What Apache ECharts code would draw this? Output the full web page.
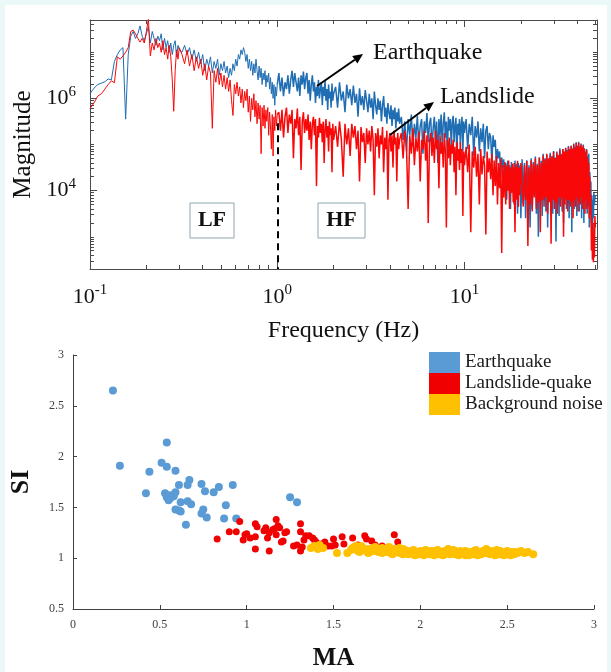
<!DOCTYPE html>
<html><head><meta charset="utf-8">
<script src="https://cdn.jsdelivr.net/npm/echarts@6/dist/echarts.min.js"></script>
<style>
html,body{margin:0;padding:0;background:#eaf8f7;}
#bg{position:absolute;left:5px;top:5px;width:602px;height:667px;background:#fff;}
#chart{position:absolute;left:0;top:0;width:611px;height:672px;}
</style></head><body><div id="bg"></div><div id="chart"></div>
<script>
// ---------- Spectrum (top panel) ----------
const freqHz = [
0.100,0.105,0.110,0.115,0.120,0.125,0.130,0.135,0.140,0.145,
0.150,0.155,0.160,0.165,0.170,0.175,0.180,0.185,0.190,0.195,
0.200,0.205,0.210,0.215,0.220,0.225,0.230,0.235,0.240,0.245,
0.250,0.255,0.260,0.265,0.270,0.275,0.280,0.285,0.290,0.295,
0.300,
0.31,0.32,0.33,0.34,0.35,0.36,0.37,0.38,0.39,0.40,
0.41,0.42,0.43,0.44,0.45,0.46,0.47,0.48,0.49,0.50,
0.51,0.52,0.53,0.54,0.55,0.56,0.57,0.58,0.59,0.60,
0.61,0.62,0.63,0.64,0.65,0.66,0.67,0.68,0.69,0.70,
0.71,0.72,0.73,0.74,0.75,0.76,0.77,0.78,0.79,0.80,
0.81,0.82,0.83,0.84,0.85,0.86,0.87,0.88,0.89,0.90,
0.91,0.92,0.93,0.94,0.95,0.96,0.97,0.98,0.99,1.00,
1.02,1.04,1.06,1.08,1.10,1.12,1.14,1.16,1.18,1.20,
1.22,1.24,1.26,1.28,1.30,1.32,1.34,1.36,1.38,1.40,
1.42,1.44,1.46,1.48,1.50,1.52,1.54,1.56,1.58,1.60,
1.62,1.64,1.66,1.68,1.70,1.72,1.74,1.76,1.78,1.80,
1.82,1.84,1.86,1.88,1.90,1.92,1.94,1.96,1.98,2.00,
2.05,2.10,2.15,2.20,2.25,2.30,2.35,2.40,2.45,2.50,
2.55,2.60,2.65,2.70,2.75,2.80,2.85,2.90,2.95,3.00,
3.05,3.10,3.15,3.20,3.25,3.30,3.35,3.40,3.45,3.50,
3.55,3.60,3.65,3.70,3.75,3.80,3.85,3.90,3.95,4.00,
4.05,4.10,4.15,4.20,4.25,4.30,4.35,4.40,4.45,4.50,
4.6,4.7,4.8,4.9,5.0,5.1,5.2,5.3,5.4,5.5,
5.6,5.7,5.8,5.9,6.0,6.1,6.2,6.3,6.4,6.5,
6.6,6.7,6.8,6.9,7.0,7.1,7.2,7.3,7.4,7.5,
7.6,7.7,7.8,7.9,8.0,8.1,8.2,8.3,8.4,8.5,
8.6,8.7,8.8,8.9,9.0,9.1,9.2,9.3,9.4,9.5,
9.6,9.7,9.8,9.9,10.0,
10.2,10.4,10.6,10.8,11.0,11.2,11.4,11.6,11.8,12.0,
12.2,12.4,12.6,12.8,13.0,13.2,13.4,13.6,13.8,14.0,
14.2,14.4,14.6,14.8,15.0,15.2,15.4,15.6,15.8,16.0,
16.2,16.4,16.6,16.8,17.0,17.2,17.4,17.6,17.8,18.0,
18.2,18.4,18.6,18.8,19.0,19.2,19.4,19.6,19.8,20.0,
20.3,20.6,20.9,21.2,21.5,21.8,22.1,22.4,22.7,23.0,
23.3,23.6,23.9,24.2,24.5,24.8,25.1,25.4,25.7,26.0,
26.3,26.6,26.9,27.2,27.5,27.8,28.1,28.4,28.7,29.0,
29.3,29.6,29.9,30.2,30.5,30.8,31.1,31.4,31.7,32.0,
32.3,32.6,32.9,33.2,33.5,33.8,34.1,34.4,34.7,35.0,
35.3,35.6,35.9,36.2,36.5,36.8,37.1,37.4,37.7,38.0,
38.3,38.6,38.9,39.2,39.5,39.8,40.1,40.4,40.7,41.0,
41.3,41.6,41.9,42.2,42.5,42.8,43.1,43.4,43.7,44.0,
44.3,44.6,44.9,45.2,45.5,45.8,46.1,46.4,46.7,47.0,
47.3,47.6,47.9,48.2,48.5,48.8,49.1,49.4,49.7,50.0
];
// log10 of magnitude, earthquake spectrum
const earthquakeLog10Mag = [
6.10,6.22,6.30,6.33,6.36,6.42,6.40,6.80,6.95,7.05,
7.10,5.55,6.95,7.35,7.45,7.30,7.40,7.57,7.35,7.25,
7.40,7.55,7.20,7.45,7.30,7.15,7.35,7.25,7.40,7.05,
7.30,7.10,7.25,7.00,7.20,6.95,7.15,7.25,6.90,7.15,
7.05,
7.00,7.15,6.95,7.10,6.85,7.05,6.80,7.00,6.75,6.95,
6.60,6.85,6.70,6.90,6.55,6.80,6.65,6.85,6.50,6.75,
6.60,6.80,6.55,6.70,6.45,6.65,6.50,6.75,6.60,6.85,
6.70,6.95,6.85,7.05,6.95,7.10,7.00,6.80,6.95,6.65,
6.85,6.60,6.80,6.50,6.75,6.55,6.85,6.60,6.40,6.70,
6.45,6.65,6.30,6.55,6.40,6.60,6.25,6.50,6.35,6.55,
6.20,6.45,6.10,6.35,6.00,6.30,5.85,6.25,6.05,6.30,
6.55,6.15,6.45,6.05,6.35,6.20,6.50,6.10,6.40,6.60,
6.25,6.55,6.35,6.15,6.45,6.05,6.50,6.30,6.58,6.20,
6.45,6.55,6.10,6.40,5.95,6.30,6.50,6.15,6.35,5.90,
6.25,6.05,6.40,6.00,6.20,6.35,5.85,6.25,6.05,6.38,
5.95,6.20,5.75,6.30,6.00,6.15,5.80,6.32,5.95,6.10,
6.25,5.80,6.35,5.95,6.15,5.70,6.30,6.00,6.20,5.85,
6.28,5.90,6.10,5.60,6.22,5.85,6.05,5.75,6.18,5.95,
5.70,6.10,5.80,6.00,5.55,6.15,5.85,5.65,6.00,5.75,
5.95,5.50,5.85,6.05,5.60,5.80,5.45,5.90,5.70,5.55,
5.85,5.40,5.75,5.55,5.80,5.35,5.70,5.50,5.78,5.45,
5.60,5.10,5.50,4.85,5.55,5.20,5.65,4.95,5.45,5.15,
5.62,5.00,5.40,5.55,4.80,5.50,5.25,5.68,5.05,5.45,
5.58,4.90,5.35,5.60,5.10,5.50,4.60,5.55,5.20,5.65,
5.00,5.45,5.70,5.15,5.50,4.75,5.60,5.30,5.55,4.95,
5.48,5.62,5.05,5.40,5.58,4.70,5.45,5.20,5.55,5.00,
5.42,5.60,4.85,5.50,5.25,
5.55,4.90,5.45,5.20,5.60,4.75,5.40,5.15,5.50,4.85,
5.35,5.05,5.45,4.70,5.30,5.40,4.90,5.25,5.15,4.60,
5.20,4.95,5.10,4.55,4.90,4.70,4.85,4.30,4.72,4.50,
4.68,4.10,4.60,3.80,4.65,4.20,4.55,3.60,4.62,4.00,
4.50,3.70,4.65,4.15,4.58,3.50,4.60,3.95,4.55,3.40,
4.68,3.70,4.60,3.40,4.66,3.85,4.55,3.20,4.70,3.60,
4.62,3.90,4.74,3.50,4.58,3.00,4.72,3.75,4.65,3.45,
4.80,3.80,4.70,3.55,4.78,3.20,4.68,3.90,4.82,3.60,
4.75,3.50,4.86,3.85,4.72,2.90,4.85,3.70,4.78,3.45,
4.92,3.80,4.80,3.55,4.90,3.30,4.85,3.95,4.93,3.60,
4.88,3.70,4.97,3.40,4.90,3.85,4.98,3.10,4.92,3.75,
5.02,3.60,4.95,3.90,5.05,3.45,4.98,3.80,5.06,3.55,
4.96,3.85,5.02,3.40,4.95,3.70,5.00,3.30,4.92,3.80,
4.85,3.60,4.90,3.50,4.75,3.65,4.80,3.20,4.40,3.70,
4.20,3.30,3.90,2.90,3.80,3.40,3.95,3.70,3.85,3.90
];
// log10 of magnitude, landslide spectrum
const landslideLog10Mag = [
5.78,5.90,6.05,6.10,6.20,6.30,6.38,6.34,6.90,6.85,
6.92,7.00,7.10,7.45,7.48,7.40,7.30,7.22,7.30,7.20,
7.45,7.72,6.92,7.20,7.05,7.30,7.10,7.20,7.00,7.25,
6.95,7.10,6.85,7.15,6.90,6.40,5.72,6.60,7.05,6.85,
7.10,
6.95,6.75,7.05,6.70,6.95,6.60,6.90,6.65,6.85,6.50,
6.75,6.40,6.70,6.55,5.35,6.60,6.35,6.65,6.30,6.55,
6.25,6.50,6.20,6.45,6.15,6.40,5.95,5.63,6.30,6.10,
6.35,6.05,6.25,5.90,6.20,5.80,6.15,5.95,6.20,5.70,
6.05,5.50,6.00,5.75,6.10,5.60,5.95,5.45,5.90,5.55,
5.85,4.80,5.80,5.40,5.85,5.35,5.75,5.50,5.80,5.20,
5.70,5.40,4.90,5.65,4.75,5.60,5.30,5.75,5.40,5.65,
5.70,5.30,5.75,5.15,5.60,5.80,5.25,5.65,5.45,5.75,
4.70,5.55,5.35,5.78,5.20,5.60,4.45,5.50,5.70,5.25,
5.55,5.30,5.65,5.10,5.50,4.90,5.45,5.60,5.20,5.55,
4.10,5.40,5.15,5.58,5.25,5.45,5.05,5.50,4.60,5.35,
5.55,5.15,5.40,4.85,5.50,5.20,5.35,4.40,5.45,5.10,
5.40,4.95,5.50,5.10,4.30,5.45,5.00,5.35,4.75,5.45,
5.15,5.40,4.90,5.30,4.20,5.38,5.05,5.25,4.60,5.35,
5.00,5.30,4.85,5.40,5.10,3.90,5.25,4.95,5.35,4.70,
5.20,5.00,5.38,4.40,5.15,4.90,5.30,3.80,5.10,5.25,
4.85,5.20,4.50,5.30,5.00,5.15,4.20,5.25,4.90,5.10,
5.25,4.70,5.30,4.95,3.60,5.20,4.80,5.35,4.55,5.15,
4.85,5.28,4.20,5.10,4.90,5.30,4.65,5.20,3.30,5.05,
5.25,4.75,5.15,4.60,5.30,4.90,5.10,4.05,5.20,4.80,
5.05,4.50,5.25,4.85,3.20,5.10,4.70,5.15,4.55,5.00,
4.80,5.10,4.40,4.95,3.90,5.05,4.65,4.90,4.45,5.05,
4.60,4.90,3.45,4.85,4.55,
4.95,4.40,5.00,3.10,4.85,4.50,4.95,4.30,4.80,3.70,
4.90,4.35,4.75,4.55,3.05,4.85,4.40,4.70,4.25,4.80,
3.90,4.65,4.10,4.75,3.70,4.60,4.05,4.70,2.65,4.55,
3.85,4.62,3.70,4.55,4.00,4.65,3.60,4.50,3.95,4.58,
3.75,4.60,3.10,4.52,3.80,4.65,3.65,4.50,3.90,4.60,
4.62,3.65,4.55,3.80,4.64,2.80,4.50,3.70,4.66,3.55,
4.58,3.85,4.70,3.60,4.55,3.75,4.72,3.10,4.60,3.80,
4.76,3.65,4.68,3.85,4.80,3.50,4.70,3.75,4.78,2.85,
4.72,3.80,4.84,3.60,4.70,3.75,4.82,3.50,4.76,3.85,
4.88,3.65,4.78,3.85,4.90,3.00,4.84,3.70,4.92,3.80,
4.85,3.55,4.95,3.80,4.88,3.65,4.96,3.75,4.90,3.40,
5.00,3.80,4.92,3.65,5.04,3.85,4.96,3.55,5.03,3.75,
4.94,3.70,5.00,3.85,4.93,3.60,4.98,3.75,4.90,3.50,
4.82,3.80,4.88,3.60,4.70,3.75,4.60,3.40,4.30,3.50,
3.90,2.70,3.40,2.50,3.10,2.45,3.30,2.55,3.45,3.20
];
const spectrumXTicks = [0.1, 1, 10];
const spectrumYTicks = [1e4, 1e6];
const bandSplitHz = 1;

// ---------- SI vs MA scatter (bottom panel) ----------
const earthquakeMA = [0.23,0.27,0.54,0.44,0.42,0.51,0.54,0.59,0.53,0.54,0.55,0.59,0.58,0.61,0.66,0.67,0.62,0.66,0.68,0.59,0.62,0.61,0.65,0.74,0.76,0.81,0.84,0.92,0.75,0.74,0.77,0.88,0.87,0.94,1.25,1.29,0.56,0.57,0.55];
const earthquakeSI = [2.65,1.91,2.14,1.85,1.64,1.94,1.90,1.86,1.64,1.60,1.57,1.65,1.61,1.72,1.72,1.77,1.55,1.56,1.53,1.48,1.46,1.47,1.33,1.73,1.66,1.65,1.70,1.72,1.48,1.44,1.40,1.52,1.39,1.39,1.60,1.55,1.59,1.62,1.62];
const landslideMA = [0.83,0.90,0.94,0.96,0.99,0.98,1.02,1.05,1.06,1.05, 1.05,1.11,1.13,1.12,1.13,1.15,1.17,1.18,1.19,1.17, 1.20,1.21,1.23,1.22,1.31,1.31,1.29,1.31,1.34,1.32, 1.36,1.38,1.39,1.40,1.43,1.45,1.47,1.49,1.50,1.51, 1.55,1.56,1.61,1.64,1.68,1.69,1.72,1.74,1.78,1.85, 1.87,1.16,1.10,1.00,1.33,1.27];
const landslideSI = [1.19,1.26,1.26,1.36,1.23,1.18,1.20,1.34,1.31,1.09, 1.21,1.30,1.25,1.20,1.07,1.28,1.38,1.32,1.30,1.23, 1.16,1.17,1.26,1.25,1.34,1.26,1.13,1.07,1.22,1.11, 1.22,1.20,1.18,1.16,1.14,1.16,1.12,1.12,1.19,1.13, 1.21,1.14,1.20,1.13,1.22,1.19,1.17,1.13,1.12,1.23, 1.16,1.29,1.27,1.24,1.18,1.12];
const noiseMA = [
1.37,1.39,1.41,1.42,1.40,1.44,1.52,1.58,1.60,1.62,
1.63,1.61,1.64,1.66,1.65,1.67,1.69,1.70,1.71,1.72,
1.74,1.75,1.76,1.77,1.78,1.79,1.80,1.81,1.82,1.83,
1.84,1.85,1.86,1.87,1.88,1.89,1.90,1.91,1.92,1.93,
1.94,1.95,1.96,1.97,1.98,1.99,2.00,2.01,2.02,2.03,
2.04,2.05,2.06,2.07,2.08,2.09,2.10,2.11,2.12,2.13,
2.14,2.15,2.16,2.17,2.18,2.19,2.20,2.21,2.22,2.23,
2.24,2.25,2.26,2.27,2.28,2.29,2.30,2.31,2.32,2.33,
2.34,2.35,2.36,2.37,2.38,2.39,2.40,2.41,2.42,2.43,
2.44,2.45,2.46,2.47,2.48,2.49,2.50,2.51,2.52,2.53,
2.54,2.56,2.58,2.60,2.62,2.65,1.70,1.73,1.78,1.84,
1.90,1.96,2.02,2.08,2.14,2.20,2.26,2.32,2.38,2.44,
2.50,2.55,1.66,1.74,1.82,1.88];
const noiseSI = [
1.10,1.12,1.09,1.13,1.11,1.10,1.05,1.05,1.08,1.11,
1.12,1.10,1.07,1.09,1.06,1.10,1.07,1.09,1.06,1.08,
1.07,1.09,1.06,1.08,1.10,1.07,1.09,1.06,1.08,1.05,
1.07,1.09,1.06,1.08,1.05,1.07,1.04,1.08,1.06,1.04,
1.07,1.05,1.08,1.03,1.06,1.04,1.07,1.05,1.03,1.08,
1.06,1.04,1.07,1.05,1.03,1.06,1.08,1.04,1.06,1.03,
1.07,1.05,1.09,1.04,1.06,1.08,1.04,1.06,1.03,1.07,
1.05,1.04,1.07,1.05,1.03,1.06,1.04,1.07,1.05,1.03,
1.06,1.04,1.07,1.05,1.09,1.06,1.04,1.07,1.05,1.03,
1.06,1.04,1.07,1.05,1.03,1.06,1.04,1.05,1.03,1.06,
1.04,1.05,1.07,1.05,1.06,1.04,1.05,1.10,1.05,1.04,
1.09,1.04,1.06,1.07,1.04,1.07,1.03,1.08,1.05,1.08,
1.07,1.06,1.12,1.11,1.11,1.10];
const legendNames = ['Earthquake', 'Landslide-quake', 'Background noise'];

// ---------- build ----------
const SERIF = '"Liberation Serif","Times New Roman",serif';
const FRAME = '#4a4a4a';
const EQ_COLOR = '#1f6db3', LS_COLOR = '#f80808';
const pairs = (xs, ys) => xs.map((x, i) => [x, ys[i]]);
const eqSpec = freqHz.map((f, i) => [f, Math.pow(10, earthquakeLog10Mag[i])]);
const lsSpec = freqHz.map((f, i) => [f, Math.pow(10, landslideLog10Mag[i])]);
// split index: low-frequency part drawn thin, dense high-frequency part slightly thicker
const splitIdx = freqHz.indexOf(bandSplitHz);
const eqLF = eqSpec.slice(0, splitIdx + 1), eqHF = eqSpec.slice(splitIdx);
const lsLF = lsSpec.slice(0, splitIdx + 1), lsHF = lsSpec.slice(splitIdx);

const minorX = [], minorY = [];
for (let k = -1; k <= 1; k++) for (let m = 2; m <= 9; m++) { const v = m * Math.pow(10, k); if (v <= 51) minorX.push(+v.toPrecision(3)); }
for (let k = 2; k <= 7; k++) for (let m = 1; m <= 9; m++) { const v = m * Math.pow(10, k); if (v >= 200 && v <= 5e7 && v !== 1e4 && v !== 1e6) minorY.push(v); }

const supRich = {
  b: { fontFamily: SERIF, fontSize: 22, color: '#111' },
  s: { fontFamily: SERIF, fontSize: 15, color: '#111', padding: [0, 0, 13, 0] }
};
const logLabel = v => '{b|10}{s|' + Math.round(Math.log10(v)) + '}';

function specX(grid, pos, major) {
  return {
    gridIndex: grid, type: 'log', min: 0.1, max: 51, position: pos,
    axisLine: { show: major, lineStyle: { color: FRAME, width: 1 } },
    axisTick: { show: true, inside: true, length: major ? 7 : 4, customValues: major ? spectrumXTicks : minorX, lineStyle: { color: FRAME } },
    axisLabel: { show: false }, splitLine: { show: false }
  };
}
function specY(grid, pos, major) {
  return {
    gridIndex: grid, type: 'log', min: 200, max: 5e7, position: pos,
    axisLine: { show: major, lineStyle: { color: FRAME, width: 1 } },
    axisTick: { show: true, inside: true, length: major ? 7 : 4, customValues: major ? spectrumYTicks : minorY, lineStyle: { color: FRAME } },
    axisLabel: { show: false }, splitLine: { show: false }
  };
}
const xb = specX(0, 'bottom', true);
xb.axisLabel = { show: true, customValues: spectrumXTicks, formatter: logLabel, rich: supRich, margin: 14 };
xb.name = 'Frequency (Hz)'; xb.nameLocation = 'middle'; xb.nameGap = 50;
xb.nameTextStyle = { fontFamily: SERIF, fontSize: 24, color: '#111' };
const yl = specY(0, 'left', true);
yl.axisLabel = { show: true, customValues: spectrumYTicks, formatter: logLabel, rich: supRich, margin: 14 };
yl.name = 'Magnitude'; yl.nameLocation = 'middle'; yl.nameGap = 47;
yl.nameTextStyle = { fontFamily: SERIF, fontSize: 25, color: '#111' };

function arrow(x1, y1, x2, y2) {
  const dx = x2 - x1, dy = y2 - y1, L = Math.hypot(dx, dy), ux = dx / L, uy = dy / L;
  const hl = 10, hw = 4.5, bx = x2 - ux * hl, by = y2 - uy * hl;
  return [
    { type: 'line', z: 100, shape: { x1, y1, x2: bx, y2: by }, style: { stroke: '#000', lineWidth: 2 } },
    { type: 'polygon', z: 100, shape: { points: [[x2, y2], [bx - uy * hw, by + ux * hw], [bx + uy * hw, by - ux * hw]] }, style: { fill: '#000' } }
  ];
}
function label(text, x, y, font, align) {
  return { type: 'text', z: 101, x, y, style: { text, font, fill: '#111', textAlign: align || 'left', align: align || 'left', textVerticalAlign: 'middle', verticalAlign: 'middle' } };
}
function box(text, x, y, w, h) {
  return [
    { type: 'rect', z: 99, shape: { x, y, width: w, height: h }, style: { fill: '#fff', stroke: '#8ea6ae', lineWidth: 1 } },
    label(text, x + w / 2, y + h / 2, 'bold 22px ' + SERIF, 'center')
  ];
}
function specLine(name, data, color, width) {
  return { name, type: 'line', xAxisIndex: 0, yAxisIndex: 0, data, showSymbol: false, symbol: 'none',
    lineStyle: { color, width }, itemStyle: { color } };
}

const lsHFSeries = specLine('Landslide spectrum HF', lsHF, LS_COLOR, 1.5);
lsHFSeries.markLine = {
  silent: true, symbol: ['none', 'none'], label: { show: false },
  lineStyle: { color: '#000', width: 2, type: [7, 5] },
  data: [[{ coord: [bandSplitHz, 2.9e5] }, { coord: [bandSplitHz, 200] }]]
};

const option = {
  animation: false,
  backgroundColor: 'transparent',
  grid: [
    { left: 90, right: 14, top: 20, height: 249 },
    { left: 90, right: 14, top: 20, height: 249 },
    { left: 69, right: 17, top: 355, height: 260 }
  ],
  xAxis: [
    xb, specX(0, 'top', true), specX(1, 'bottom', false), specX(1, 'top', false),
    {
      gridIndex: 2, type: 'value', min: 0, max: 3, interval: 0.5,
      axisLine: { lineStyle: { color: '#404040' } },
      axisTick: { inside: true, length: 4, lineStyle: { color: '#404040' } },
      axisLabel: { fontFamily: SERIF, fontSize: 12, color: '#404040', margin: 10 },
      splitLine: { show: false },
      name: 'MA', nameLocation: 'middle', nameGap: 37,
      nameTextStyle: { fontFamily: SERIF, fontWeight: 'bold', fontSize: 25, color: '#111' }
    }
  ],
  yAxis: [
    yl, specY(0, 'right', true), specY(1, 'left', false), specY(1, 'right', false),
    {
      gridIndex: 2, type: 'value', min: 0.5, max: 3, interval: 0.5,
      axisLine: { show: true, lineStyle: { color: '#404040' } },
      axisTick: { show: true, inside: true, length: 4, lineStyle: { color: '#404040' } },
      axisLabel: { fontFamily: SERIF, fontSize: 12, color: '#404040', margin: 9 },
      splitLine: { show: false },
      name: 'SI', nameLocation: 'middle', nameGap: 39,
      nameTextStyle: { fontFamily: SERIF, fontWeight: 'bold', fontSize: 26, color: '#111' }
    }
  ],
  legend: {
    data: legendNames, orient: 'vertical', left: 429, top: 352, padding: 0,
    itemWidth: 31, itemHeight: 21, itemGap: 0, icon: 'rect', selectedMode: false,
    textStyle: { fontFamily: SERIF, fontSize: 19, color: '#1a1a1a', lineHeight: 21 }
  },
  series: [
    specLine('Earthquake spectrum', eqLF, EQ_COLOR, 1),
    specLine('Earthquake spectrum HF', eqHF, EQ_COLOR, 1.5),
    specLine('Landslide spectrum', lsLF, LS_COLOR, 1),
    lsHFSeries,
    {
      name: legendNames[0], type: 'scatter', xAxisIndex: 4, yAxisIndex: 4, symbolSize: 8,
      data: pairs(earthquakeMA, earthquakeSI), itemStyle: { color: '#5b9bd5', opacity: 1 }
    },
    {
      name: legendNames[1], type: 'scatter', xAxisIndex: 4, yAxisIndex: 4, symbolSize: 7,
      data: pairs(landslideMA, landslideSI), itemStyle: { color: '#f00000', opacity: 1 }
    },
    {
      name: legendNames[2], type: 'scatter', xAxisIndex: 4, yAxisIndex: 4, symbolSize: 8,
      data: pairs(noiseMA, noiseSI), itemStyle: { color: '#ffc000', opacity: 1 }
    }
  ],
  graphic: [
    ...arrow(317, 86, 363, 54),
    ...arrow(390, 135, 434, 102),
    label('Earthquake', 373, 53, '24px ' + SERIF),
    label('Landslide', 440, 97, '24px ' + SERIF),
    ...box('LF', 190, 203, 44, 35),
    ...box('HF', 318, 203, 47, 35)
  ]
};
const chart = echarts.init(document.getElementById('chart'), null, { renderer: 'canvas' });
chart.setOption(option);
</script></body></html>
